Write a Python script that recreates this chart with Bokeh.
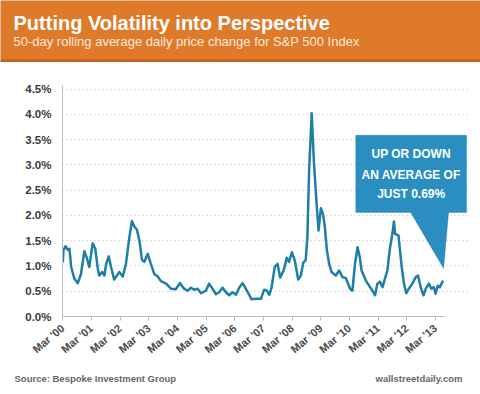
from math import pi
from bokeh.plotting import figure
from bokeh.layouts import column
from bokeh.models import (Label, PolyAnnotation, BoxAnnotation, FixedTicker, CustomJSTickFormatter,
                          Range1d, Plot)
from bokeh.embed import file_html
from bokeh.resources import INLINE

# ---------------- data ----------------
title = "Putting Volatility into Perspective"
subtitle = "50-day rolling average daily price change for S&P 500 Index"
source_text = "Source: Bespoke Investment Group"
site_text = "wallstreetdaily.com"
callout_lines = ["UP OR DOWN", "AN AVERAGE OF", "JUST 0.69%"]

tick_years = [2000 + 2 / 12 + k for k in range(14)]
x_tick_labels = ["Mar '00", "Mar '01", "Mar '02", "Mar '03", "Mar '04", "Mar '05", "Mar '06",
                 "Mar '07", "Mar '08", "Mar '09", "Mar '10", "Mar '11", "Mar '12", "Mar '13"]
y_ticks = [0.0, 0.5, 1.0, 1.5, 2.0, 2.5, 3.0, 3.5, 4.0, 4.5]

years = [2000.17, 2000.19, 2000.26, 2000.34, 2000.40, 2000.46, 2000.57, 2000.69, 2000.80, 2000.92,
         2001.00, 2001.09, 2001.15, 2001.21, 2001.30, 2001.39, 2001.44, 2001.54, 2001.62, 2001.68,
         2001.77, 2001.85, 2001.96, 2002.14, 2002.26, 2002.37, 2002.49, 2002.58, 2002.66, 2002.75,
         2002.84, 2002.93, 2003.01, 2003.13, 2003.24, 2003.36, 2003.48, 2003.59, 2003.77, 2003.94,
         2004.11, 2004.25, 2004.40, 2004.52, 2004.64, 2004.75, 2004.87, 2004.99, 2005.16, 2005.27,
         2005.39, 2005.51, 2005.62, 2005.74, 2005.86, 2005.97, 2006.09, 2006.21, 2006.32, 2006.44,
         2006.55, 2006.67, 2006.75, 2006.90, 2007.08, 2007.19, 2007.29, 2007.37, 2007.45, 2007.56,
         2007.66, 2007.75, 2007.87, 2007.98, 2008.06, 2008.16, 2008.26, 2008.38, 2008.47, 2008.56,
         2008.64, 2008.70, 2008.76, 2008.85, 2008.93, 2009.02, 2009.09, 2009.17, 2009.24, 2009.31,
         2009.38, 2009.46, 2009.54, 2009.69, 2009.81, 2009.92, 2010.04, 2010.19, 2010.27, 2010.36,
         2010.45, 2010.53, 2010.59, 2010.74, 2010.85, 2010.97, 2011.06, 2011.14, 2011.23, 2011.32,
         2011.40, 2011.49, 2011.57, 2011.67, 2011.72, 2011.76, 2011.82, 2011.88, 2011.93, 2011.99,
         2012.07, 2012.15, 2012.24, 2012.36, 2012.48, 2012.56, 2012.65, 2012.75, 2012.83, 2012.94,
         2013.02, 2013.11, 2013.17, 2013.25, 2013.32, 2013.43]
volatility = [1.07, 1.31, 1.39, 1.32, 1.34, 0.98, 0.75, 0.66, 0.84, 1.29,
              1.17, 0.98, 1.21, 1.45, 1.34, 0.94, 0.81, 0.88, 0.81, 1.04,
              1.19, 0.98, 0.73, 0.88, 0.79, 1.04, 1.57, 1.89, 1.78, 1.72,
              1.50, 1.12, 1.08, 1.24, 1.04, 0.84, 0.79, 0.70, 0.65, 0.55,
              0.54, 0.66, 0.55, 0.51, 0.57, 0.53, 0.55, 0.46, 0.51, 0.65,
              0.55, 0.44, 0.48, 0.57, 0.48, 0.42, 0.48, 0.43, 0.57, 0.66,
              0.55, 0.43, 0.34, 0.35, 0.35, 0.53, 0.51, 0.43, 0.57, 0.98,
              1.04, 0.77, 0.91, 1.16, 1.08, 1.27, 1.11, 0.73, 0.81, 1.07,
              1.11, 1.57, 2.89, 4.02, 3.03, 2.24, 1.70, 2.14, 2.04, 1.77,
              1.31, 1.04, 0.88, 0.81, 0.91, 0.78, 0.76, 0.55, 0.51, 1.04,
              1.37, 1.17, 0.91, 0.71, 0.61, 0.51, 0.42, 0.65, 0.69, 0.58,
              0.74, 0.91, 1.31, 1.66, 1.88, 1.63, 1.62, 1.60, 1.31, 0.98,
              0.65, 0.46, 0.55, 0.65, 0.78, 0.81, 0.58, 0.42, 0.55, 0.65,
              0.55, 0.58, 0.45, 0.61, 0.58, 0.71]

FONT = "Liberation Sans"
ORANGE = "#df7a2a"
LINE = "#1f7ea6"
W = 480
HAS_FRAME_ALIGN = "frame_align" in Plot.properties()


def no_align(fig):
    if HAS_FRAME_ALIGN:
        fig.frame_align = False


# ---------------- header ----------------
HH = 62
header = figure(width=W, height=HH, x_range=Range1d(0, W), y_range=Range1d(HH, 0),
                toolbar_location=None, output_backend="svg",
                x_axis_location=None, y_axis_location=None, min_border=0,
                background_fill_color=ORANGE, border_fill_color=ORANGE, outline_line_color=None)
no_align(header)
header.grid.visible = False
header.add_layout(BoxAnnotation(top=HH - 3, bottom=HH, fill_color="#c4631d", fill_alpha=1.0,
                                line_color=None))
header.add_layout(Label(x=13, y=22, text=title, text_color="white", text_font=FONT,
                        text_font_style="bold", text_font_size="20px", text_baseline="middle"))
header.add_layout(Label(x=13, y=41, text=subtitle, text_color="#fbe9dc", text_font=FONT,
                        text_font_size="13px", text_baseline="middle"))

# ---------------- main chart ----------------
X0, X_AXIS_END, X1 = 2000.157, 2013.5, 2014.39
p = figure(width=W, height=304, x_range=Range1d(X0, X1), y_range=Range1d(0, 4.57),
           toolbar_location=None, output_backend="svg",
           min_border_left=62, min_border_right=10, min_border_top=23, min_border_bottom=50,
           outline_line_color=None, background_fill_color="white", border_fill_color="white")

p.line(years, volatility, line_color=LINE, line_width=2.5, line_join="round")

p.xgrid.visible = False
p.ygrid.ticker = FixedTicker(ticks=y_ticks)
p.ygrid.bounds = (X0, X_AXIS_END)
p.ygrid.grid_line_color = "#b9b9b9"
p.ygrid.grid_line_dash = "1 3"
p.ygrid.grid_line_width = 1

p.yaxis.ticker = FixedTicker(ticks=y_ticks)
p.yaxis.formatter = CustomJSTickFormatter(code="return tick.toFixed(1) + '%';")
p.yaxis.major_tick_line_color = None
p.yaxis.minor_tick_line_color = None
p.yaxis.axis_line_color = "#bdbdbd"
p.yaxis.major_label_text_font = FONT
p.yaxis.major_label_text_font_style = "bold"
p.yaxis.major_label_text_font_size = "11.5px"
p.yaxis.major_label_text_color = "#3a3a3a"
p.yaxis.major_label_standoff = 5

p.xaxis.ticker = FixedTicker(ticks=tick_years)
p.xaxis.bounds = (X0, X_AXIS_END)
p.xaxis.formatter = CustomJSTickFormatter(args=dict(labels=x_tick_labels),
                                          code="return labels[Math.round(tick - 2000 - 2/12)];")
p.xaxis.major_label_orientation = pi * 40 / 180
p.xaxis.axis_line_color = "#bdbdbd"
p.xaxis.major_tick_line_color = "#bdbdbd"
p.xaxis.major_tick_in = 0
p.xaxis.major_tick_out = 4
p.xaxis.minor_tick_line_color = None
p.xaxis.major_label_text_font = FONT
p.xaxis.major_label_text_font_style = "bold"
p.xaxis.major_label_text_font_size = "11px"
p.xaxis.major_label_text_color = "#4a4a4a"
p.xaxis.major_label_standoff = 6

# callout bubble
cx = [2010.387, 2014.254, 2014.254, 2013.627, 2013.453, 2012.303, 2010.387]
cy = [3.584, 3.584, 2.059, 2.059, 0.950, 2.059, 2.059]
p.add_layout(PolyAnnotation(xs=cx, ys=cy, fill_color="#2a8fc0", fill_alpha=1.0,
                            line_color="#1b6a8f", line_width=1))
for txt, yy in zip(callout_lines, [3.208, 2.802, 2.416]):
    p.add_layout(Label(x=2012.32, y=yy, text=txt, text_color="white", text_font=FONT,
                       text_font_style="bold", text_font_size="12px", text_align="center",
                       text_baseline="middle"))

# ---------------- footer ----------------
FH = 28
footer = figure(width=W, height=FH, x_range=Range1d(0, W), y_range=Range1d(FH, 0),
                toolbar_location=None, output_backend="svg",
                x_axis_location=None, y_axis_location=None, min_border=0,
                background_fill_color="white", border_fill_color="white", outline_line_color=None)
no_align(footer)
footer.grid.visible = False
footer.add_layout(Label(x=14, y=12, text=source_text, text_color="#666666", text_font=FONT,
                        text_font_style="bold", text_font_size="9.5px", text_baseline="middle"))
footer.add_layout(Label(x=462, y=12, text=site_text, text_color="#666666", text_font=FONT,
                        text_font_style="bold", text_font_size="9.5px", text_baseline="middle",
                        text_align="right"))

layout = column(header, p, footer, spacing=0)
open("out.html", "w").write(file_html(layout, INLINE))
